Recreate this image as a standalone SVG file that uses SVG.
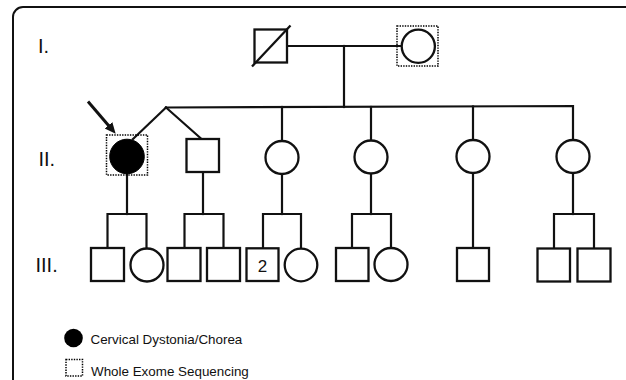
<svg xmlns="http://www.w3.org/2000/svg" width="626" height="380" viewBox="0 0 626 380">
<style>
.ln{fill:none;stroke:#111;stroke-width:2.2;stroke-linecap:square}
.sym{fill:#fff;stroke:#111;stroke-width:2.3}
.aff{fill:#000;stroke:#000;stroke-width:1}
.wes{fill:none;stroke:#000;stroke-width:1.5;stroke-dasharray:1.4 1.2}
.gen{font-family:"Liberation Sans",Arial,sans-serif;font-size:20px;fill:#111}
.lg{font-family:"Liberation Sans",Arial,sans-serif;font-size:13.4px;fill:#111}
.num{font-family:"Liberation Sans",Arial,sans-serif;font-size:17px;fill:#111;text-anchor:middle}
</style>
<defs>
<marker id="ah" markerUnits="userSpaceOnUse" markerWidth="12" markerHeight="12" refX="4" refY="5" orient="auto">
<path d="M0,0 L11,5 L0,10 z" fill="#111"/>
</marker>
</defs>
<rect width="626" height="380" fill="#fff"/>
<path d="M13,382 V17 A10,10 0 0 1 23,7 H630" fill="none" stroke="#111" stroke-width="2"/>

<g id="gen-labels">
<text class="gen" x="38" y="53">I.</text>
<text class="gen" x="38.5" y="166">II.</text>
<text class="gen" x="35.5" y="272">III.</text>
</g>

<g id="connectors">
<path class="ln" d="M288,46 H401"/>
<path class="ln" d="M344,46 V107"/>
<path class="ln" d="M166,107.5 L573,106 V140"/>
<path class="ln" d="M166,107.5 L133,139"/>
<path class="ln" d="M166,107.5 L201,138.5"/>
<path class="ln" d="M282,107 V140"/>
<path class="ln" d="M371,107 V140"/>
<path class="ln" d="M473,106.5 V140"/>
<path class="ln" d="M127,174 V214"/>
<path class="ln" d="M203,172 V214"/>
<path class="ln" d="M282,174 V214"/>
<path class="ln" d="M371,174 V214"/>
<path class="ln" d="M473,173 V248"/>
<path class="ln" d="M573,173 V214"/>
<path class="ln" d="M107.5,248 V214 H146.5 V248.5"/>
<path class="ln" d="M184.5,248 V214 H223.5 V248"/>
<path class="ln" d="M263,248 V214 H301 V248.5"/>
<path class="ln" d="M352,248 V214 H391 V248"/>
<path class="ln" d="M554,248 V214 H594 V248"/>
<line x1="88" y1="101.5" x2="111.1" y2="128.4" stroke="#111" stroke-width="3" marker-end="url(#ah)"/>
</g>

<g id="I-1"><rect class="sym" x="254.5" y="29.5" width="32.5" height="33"/><line x1="252" y1="66.5" x2="290.5" y2="25.5" stroke="#111" stroke-width="2.3"/></g>
<g id="I-2"><rect class="wes" x="397" y="26" width="41" height="40"/><circle class="sym" cx="418.3" cy="46.3" r="16.6"/></g>

<g id="II-1"><rect class="wes" x="106.5" y="135" width="41" height="40"/><circle class="aff" cx="127" cy="156.5" r="17.3"/></g>
<g id="II-2"><rect class="sym" x="186.5" y="139" width="32.5" height="33"/></g>
<g id="II-3"><circle class="sym" cx="282" cy="157.5" r="16.5"/></g>
<g id="II-4"><circle class="sym" cx="371" cy="157" r="16.5"/></g>
<g id="II-5"><circle class="sym" cx="473" cy="156.5" r="16.5"/></g>
<g id="II-6"><circle class="sym" cx="573" cy="156.5" r="16.5"/></g>

<g id="III-1"><rect class="sym" x="91" y="248" width="33" height="33"/></g>
<g id="III-2"><circle class="sym" cx="147" cy="265" r="16.5"/></g>
<g id="III-3"><rect class="sym" x="167.5" y="248" width="33" height="33"/></g>
<g id="III-4"><rect class="sym" x="207" y="248" width="33" height="33"/></g>
<g id="III-5"><rect class="sym" x="246.5" y="248.3" width="32" height="32.7"/><text class="num" x="262.5" y="272.3">2</text></g>
<g id="III-6"><circle class="sym" cx="301" cy="265" r="16.3"/></g>
<g id="III-7"><rect class="sym" x="336" y="248" width="32.5" height="33"/></g>
<g id="III-8"><circle class="sym" cx="391" cy="264.5" r="16.5"/></g>
<g id="III-9"><rect class="sym" x="457" y="248" width="32" height="33"/></g>
<g id="III-10"><rect class="sym" x="537.5" y="248.5" width="32.5" height="33"/></g>
<g id="III-11"><rect class="sym" x="577.5" y="248.5" width="33" height="33"/></g>

<g id="legend">
<circle cx="73.5" cy="338" r="9.3" fill="#000"/>
<text class="lg" x="90.5" y="344">Cervical Dystonia/Chorea</text>
<rect class="wes" x="66" y="359.5" width="16.5" height="16.5"/>
<text class="lg" x="91" y="376">Whole Exome Sequencing</text>
</g>
</svg>
